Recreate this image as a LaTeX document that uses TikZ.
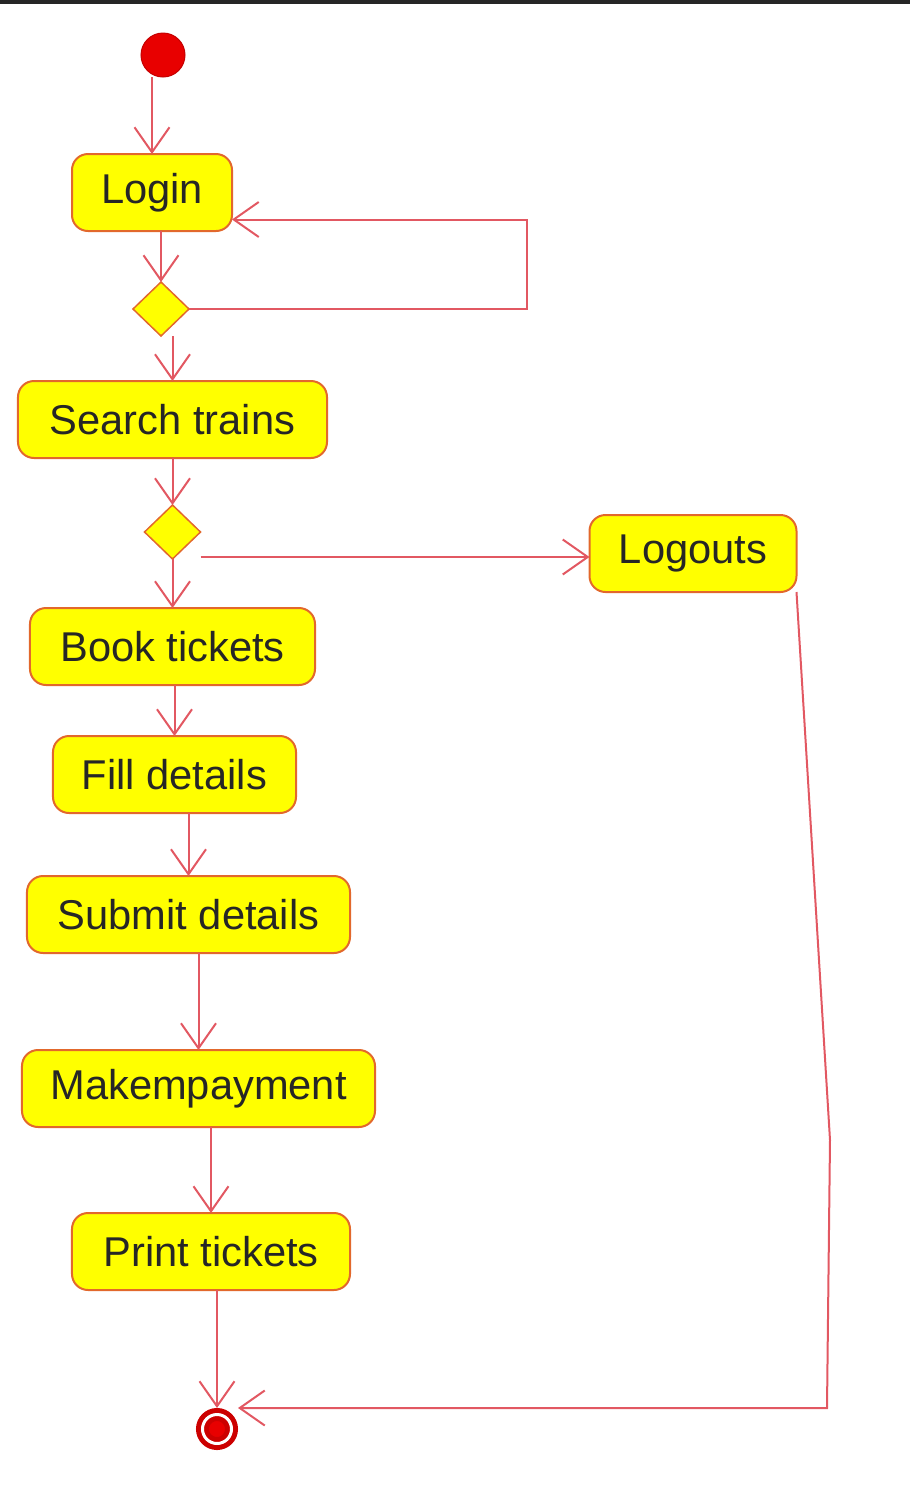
\documentclass[tikz,border=0pt]{standalone}
\usepackage{fontspec}
\setmainfont{Liberation Sans}
\usetikzlibrary{positioning}
\usetikzlibrary{shapes.geometric}
\usetikzlibrary{arrows.meta}
\definecolor{flowred}{RGB}{226,88,98}
\definecolor{boxedge}{RGB}{226,104,44}
\definecolor{boxfill}{RGB}{255,255,0}
\definecolor{dotred}{RGB}{232,0,0}
\tikzset{activity node/.style={shape=rectangle, rounded corners=0.32cm,
    draw=boxedge, line width=0.04cm, fill=boxfill, align=center,
    minimum height=1.54cm, inner sep=0pt, outer sep=0pt, text=black!85,
    font=\fontsize{23.7}{28}\selectfont}}
\tikzset{decision node/.style={shape=diamond, draw=boxedge, line width=0.03cm,
    fill=boxfill, minimum width=1.12cm, minimum height=1.08cm, inner sep=0pt,
    outer sep=0pt}}
\tikzset{start node/.style={shape=circle, fill=dotred, draw=dotred!85!black,
    line width=0.02cm, minimum size=0.88cm, inner sep=0pt, outer sep=0pt}}
\tikzset{end node/.style={shape=circle, fill=dotred, draw=dotred!88!black,
    double=white, double distance=0.06cm, line width=0.1cm, minimum size=0.58cm,
    inner sep=0pt, outer sep=0.13cm}}
\tikzset{flow/.style={draw=flowred, line width=0.04cm,
    -{Straight Barb[length=0.5cm,width=0.7cm]}}}

\begin{document}
\begin{tikzpicture}
    \useasboundingbox (0,0) rectangle (18.2,-29.78);
    \fill[black!85] (0,0) rectangle (18.2,-0.08);

    \node[start node] (1) at (3.26,-1.1) {};
    \node[activity node, minimum width=3.2cm] (2) [below = 1.54cm of 1, xshift=-0.22cm] {Login};
    \node[decision node] (3) [below = 1.02cm of 2, xshift=0.18cm] {};
    \node[activity node, minimum width=6.18cm] (4) [below = 0.9cm of 3, xshift=0.23cm] {Search trains};
    \node[decision node] (5) [below = 0.94cm of 4] {};
    \node[activity node, minimum width=4.14cm] (6) [right = 7.78cm of 5, yshift=-0.43cm] {Logouts};

    \node[activity node, minimum width=5.7cm] (7) [below = 0.98cm of 5] {Book tickets};
    \node[activity node, minimum width=4.86cm] (8) [below = 1.02cm of 7, xshift=0.04cm] {Fill details};
    \node[activity node, minimum width=6.46cm] (9) [below = 1.26cm of 8, xshift=0.28cm] {Submit details};
    \node[activity node, minimum width=7.06cm] (10) [below = 1.94cm of 9, xshift=0.2cm] {Makempayment};
    \node[activity node, minimum width=5.56cm] (11) [below = 1.72cm of 10, xshift=0.25cm] {Print tickets};
    \node[end node] (12) [below = 2.36cm of 11, xshift=0.12cm] {};

    \coordinate (loop) at (10.54,-6.12);
    \coordinate (bend1) at (16.6,-22.8);
    \coordinate (bend2) at (16.54,-28.16);

    \path
    (1.south -| 2.north) edge[flow] (2.north)
    (2.south -| 3.north) edge[flow] (3.north)
    (3.south -| 4.north) edge[flow] (4.north)
    (4.south -| 5.north) edge[flow] (5.north)
    (5.south -| 7.north) edge[flow] (7.north)
    (7.south -| 8.north) edge[flow] (8.north)
    (8.south -| 9.north) edge[flow] (9.north)
    (9.south -| 10.north) edge[flow] (10.north)
    (10.south -| 11.north) edge[flow] (11.north)
    (11.south -| 12.north) edge[flow] (12.north)
    ;

    \draw[flow] (3.east) -- (3.east -| loop) |- ([yshift=-0.54cm]2.east);
    \draw[flow] ([yshift=-0.5cm]5.east) -- ([yshift=-0.5cm]5.east -| 6.west);
    \draw[flow] (6.south east) -- (bend1) -- (bend2) -- (bend2 -| 12.east);
\end{tikzpicture}
\end{document}
